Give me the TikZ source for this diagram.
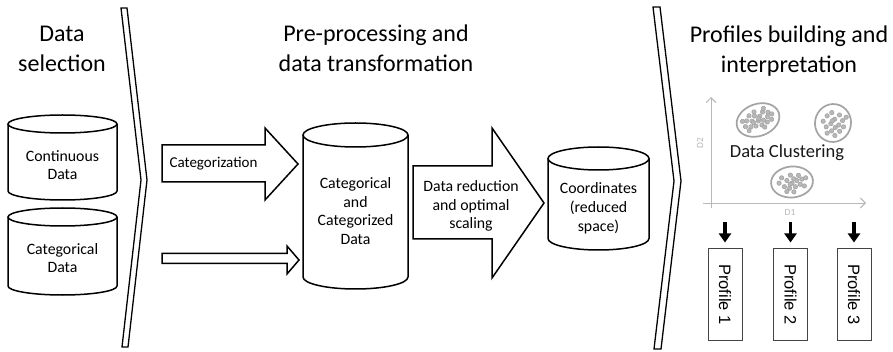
\documentclass[tikz,border=0pt]{standalone}
\usepackage{fontspec}
\setmainfont{Carlito}
\newfontfamily\arialfont{Liberation Sans}
\usetikzlibrary{arrows.meta}
\definecolor{axgray}{HTML}{B8B8B8}
\definecolor{clgray}{HTML}{A4A4A4}
\definecolor{dotfill}{HTML}{B8B8B8}
\definecolor{boxgray}{HTML}{444444}
\newcommand{\cylshape}[5]{%
  \pgfmathsetmacro{\cylrx}{(#2-#1)/2}%
  \pgfmathsetmacro{\cylcx}{(#2+#1)/2}%
  \draw[shp] (#1,#3+#5) -- (#1,#4-#5) arc[start angle=180,end angle=360,x radius=\cylrx pt,y radius=#5pt] -- (#2,#3+#5);
  \draw[shp] (\cylcx,#3+#5) ellipse[x radius=\cylrx pt,y radius=#5pt];
}
\newcommand{\clusterdots}[1]{%
  \foreach \u/\v in {#1}{\fill[dotfill,draw=clgray,line width=0.6pt] (\u,\v) circle[radius=2.2pt];}%
}
\begin{document}
\begin{tikzpicture}[x=1pt,y=-1pt,
  shp/.style={draw=black,line width=1.5pt,fill=white,line join=miter},
  sepband/.style={draw=black,line width=1.3pt,fill=white,line join=miter},
  titletxt/.style={font=\fontsize{24}{30}\selectfont,align=center,inner sep=0pt},
  lbl/.style={font=\fontsize{15.8}{18.8}\selectfont,align=center,inner sep=0pt},
  axisline/.style={draw=axgray,line width=0.9pt,-{Straight Barb[length=5pt,width=10pt]}},
  clell/.style={draw=clgray,line width=1.7pt},
  darr/.style={draw=black,line width=3.6pt,-{Triangle[length=9pt,width=12pt]},shorten >=6pt},
  pbox/.style={draw=boxgray,line width=1pt,rotate=-90,minimum width=91pt,minimum height=34pt,inner sep=0pt,
    font=\arialfont\fontsize{16.5}{18}\selectfont}
]
\useasboundingbox (0,0) rectangle (893,352);
\fill[white] (0,0) rectangle (893,352);

% titles
\node[titletxt] (t1) at (62,48.5) {Data\\selection};
\node[titletxt] (t2) at (376,48.5) {Pre-processing and\\data transformation};
\node[titletxt] (t3) at (789,51) {Profiles building and\\interpretation};

% separators
\draw[sepband] (121,8) -- (127,8) -- (147,180) -- (128,347) -- (122,347) -- (141,180) -- cycle;
\draw[sepband] (653,7) -- (660,7) -- (681,181) -- (661,349) -- (654,349) -- (674,181) -- cycle;

% cylinders
\cylshape{8}{117}{115}{200}{9}
\node[lbl] (cont) at (62.5,165) {Continuous\\Data};
\cylshape{8}{117}{208}{295}{9}
\node[lbl] (catd) at (62.5,258) {Categorical\\Data};
\cylshape{303}{408}{123}{289}{12}
\node[lbl] (catc) at (355.5,211) {Categorical\\and\\Categorized\\Data};
\cylshape{548}{649}{147}{250}{11.5}
\node[lbl] (coord) at (598.5,208) {Coordinates\\(reduced\\space)};

% block arrows
\draw[shp] (162,145) -- (265,145) -- (265,128) -- (298,164) -- (265,200) -- (265,182) -- (162,182) -- cycle;
\node[lbl,font=\fontsize{15}{18}\selectfont] (catz) at (213.5,163.5) {Categorization};
\draw[shp] (162,253.5) -- (287,253.5) -- (287,246) -- (299,260) -- (287,274) -- (287,263.5) -- (162,263.5) -- cycle;
\draw[shp] (413,166) -- (492,166) -- (492,128) -- (544,203) -- (492,278) -- (492,239) -- (413,239) -- cycle;
\node[lbl] (dred) at (471,206) {Data reduction\\and optimal\\scaling};

% clustering plot
\coordinate (yb) at (711,208);
\coordinate (yt) at (711,97);
\coordinate (xl) at (703,203);
\coordinate (xr) at (866,203);
\draw[axisline] (yb) -- (yt);
\draw[axisline] (xl) -- (xr);
\node[rotate=90,font=\fontsize{9.5}{9.5}\selectfont,text=axgray,inner sep=0pt] (d2) at (700,143) {D2};
\node[font=\fontsize{9.5}{9.5}\selectfont,text=axgray,inner sep=0pt] (d1) at (790,212.5) {D1};

\begin{scope}[shift={(758,120)},rotate=20]
  \draw[clell] (0,0) ellipse[x radius=22pt,y radius=16pt];
  \clusterdots{-14/2,-11/-3,-9/4,-6/-1,-4/5,-2/-5,0/1,2/6,3/-3,5/2,7/-6,8/5,10/0,12/-4,13/4,15/-1,-12/7,-7/-7,-1/-9,4/9,9/-9,-15/-4,1/-1,-5/1}
\end{scope}
\begin{scope}[shift={(833,123)},rotate=-10]
  \draw[clell] (0,0) ellipse[x radius=18pt,y radius=19pt];
  \clusterdots{-10/0,-7/-6,-6/5,-3/-10,-2/1,0/8,1/-4,3/4,5/-9,6/1,8/7,9/-4,11/2,4/12,-4/11,12/-8,-1/-2}
\end{scope}
\begin{scope}[shift={(792,182)},rotate=5]
  \draw[clell] (0,0) ellipse[x radius=21pt,y radius=15.5pt];
  \clusterdots{-13/0,-10/-5,-8/4,-5/-2,-3/6,-1/-7,0/1,2/-3,3/5,5/-1,7/-6,8/3,10/-2,12/5,14/-3,-6/9,1/10,-2/2}
\end{scope}
\node[font=\fontsize{18.5}{20}\selectfont,inner sep=0pt,text=black!90] (dc) at (787,153) {Data Clustering};

% profiles
\node[pbox] (p1) at (725,294.5) {Profile 1};
\node[pbox] (p2) at (790.5,294.5) {Profile 2};
\node[pbox] (p3) at (854,294.5) {Profile 3};
\coordinate (a1) at (725,222);
\coordinate (a2) at (790.5,222);
\coordinate (a3) at (854,222);
\draw[darr] (a1) -- (p1.west);
\draw[darr] (a2) -- (p2.west);
\draw[darr] (a3) -- (p3.west);
\end{tikzpicture}
\end{document}
